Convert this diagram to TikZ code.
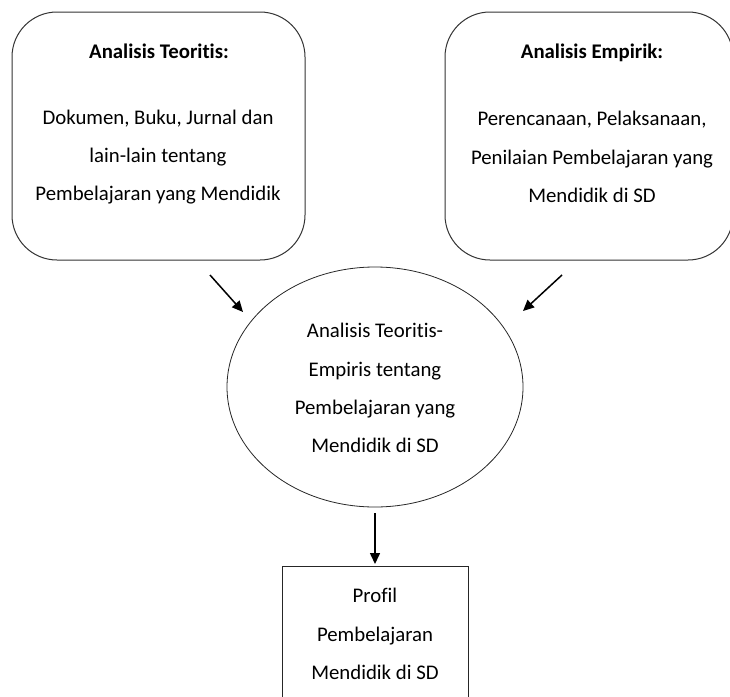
\documentclass[tikz,border=0pt]{standalone}
\usepackage{fontspec}
\setmainfont{Carlito}[Ligatures={NoCommon}]
\usetikzlibrary{arrows.meta,shapes.geometric}
\tikzset{
  rbox/.style={draw=black!80, line width=1pt, rounded corners=45pt},
  txt/.style={align=center, inner sep=0pt, font=\fontsize{20.8}{38.3}\selectfont},
  ttl/.style={align=center, inner sep=0pt, anchor=base, font=\fontsize{20.8}{25}\selectfont\bfseries},
  arr/.style={line width=1.5pt, -{Triangle[length=11pt,width=10pt]}},
}
\begin{document}
\begin{tikzpicture}[x=1pt,y=-1pt]
\useasboundingbox (0,0) rectangle (730,696);
\clip (0,0) rectangle (730,696);
% boxes
\draw[rbox] (12,12) rectangle (305,260);
\node[ttl] (t1) at (159,58) {Analisis Teoritis:};
\node[txt] (b1) at (158,157) {Dokumen, Buku, Jurnal dan\\lain-lain tentang\\Pembelajaran yang Mendidik};
\draw[rbox] (445,12) rectangle (733,260);
\node[ttl] (t2) at (592,58) {Analisis Empirik:};
\node[txt] (b2) at (592,157) {Perencanaan, Pelaksanaan,\\Penilaian Pembelajaran yang\\Mendidik di SD};
% ellipse
\node[draw=black!85, line width=0.8pt, ellipse, minimum width=296pt, minimum height=240pt, inner sep=0pt] (el) at (375,387) {};
\node[txt] (et) at (375,388) {Analisis Teoritis-\\Empiris tentang\\Pembelajaran yang\\Mendidik di SD};
% bottom box
\draw[draw=black!85, line width=1pt] (282,720) -- (282,566) -- (468,566) -- (468,720);
\node[txt] (pt) at (375,634) {Profil\\Pembelajaran\\Mendidik di SD};
% arrows
\coordinate (a1s) at (210,275);
\coordinate (a1e) at (243,312);
\coordinate (a2s) at (562,275);
\coordinate (a2e) at (523,311);
\coordinate (a3s) at (375,513);
\coordinate (a3e) at (375,564);
\draw[arr] (a1s) -- (a1e);
\draw[arr] (a2s) -- (a2e);
\draw[arr] (a3s) -- (a3e);
\end{tikzpicture}
\end{document}
